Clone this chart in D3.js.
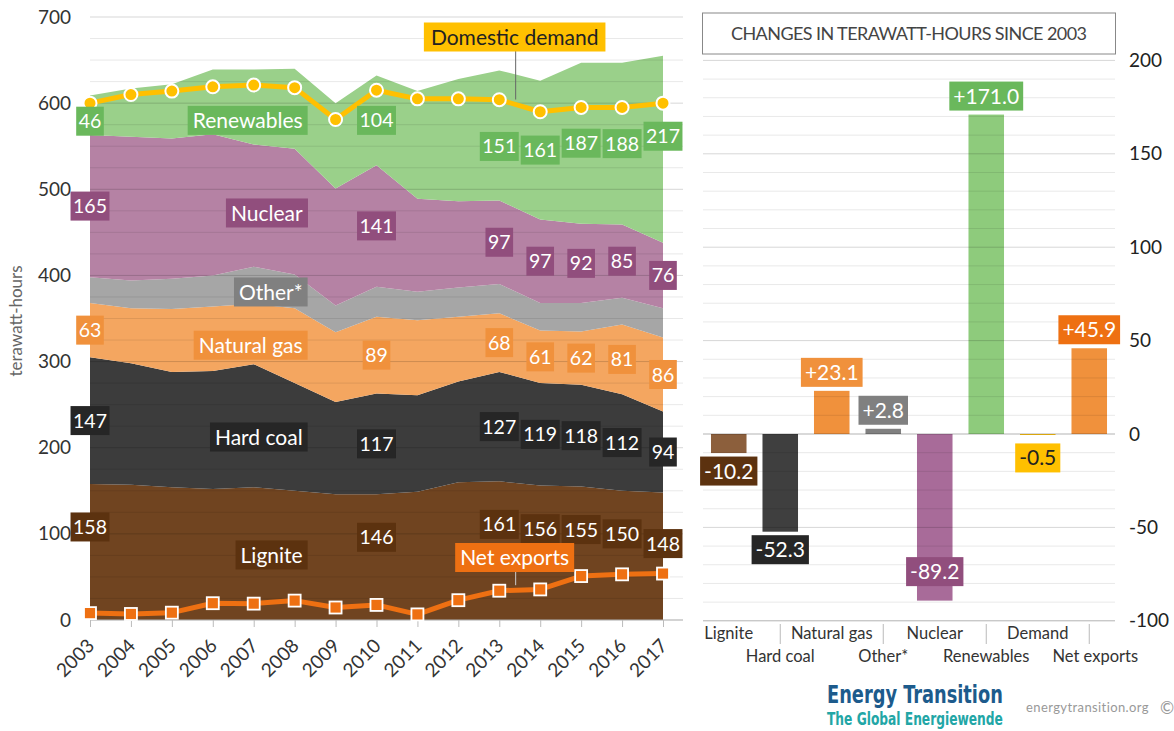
<!DOCTYPE html>
<html><head><meta charset="utf-8">
<script src="https://cdn.jsdelivr.net/npm/d3@7"></script>
<style>
body{margin:0;background:#fff;}
svg{display:block;font-family:Lato,"Open Sans",sans-serif;}
</style>
</head><body>
<svg id="c" width="1174" height="731"></svg>
<script>
// ---------- DATA ----------
const years = [2003,2004,2005,2006,2007,2008,2009,2010,2011,2012,2013,2014,2015,2016,2017];
const lignite    = [158,157,154,152,154,150,146,146,149,160,161,156,155,150,148];
const hardCoal   = [147,141,134,137,143,125,107,117,112,117,127,119,118,112, 94];
const naturalGas = [ 63, 64, 73, 75, 70, 87, 81, 89, 87, 75, 68, 61, 62, 81, 86];
const other      = [ 30, 32, 35, 36, 43, 39, 31, 35, 33, 34, 34, 32, 33, 31, 34];
const nuclear    = [165,167,163,164,142,146,136,141,108,100, 97, 97, 92, 85, 76];
const renewables = [ 46, 56, 63, 75, 87, 93, 99,104,125,142,151,161,187,188,217];
const domesticDemand = [600,610,614,619,621,618,581,615,605,605,604,590,595,595,600];
const netExports = [8,7,8.5,19.5,19,22.5,14.5,17.5,6.5,23,34,35.5,51,53,53.9];
const labelledYears = [2003,2010,2013,2014,2015,2016,2017];
const seriesNames = ["Lignite","Hard coal","Natural gas","Other*","Nuclear","Renewables"];
const leftTicks = [0,100,200,300,400,500,600,700];

const changeCats = ["Lignite","Hard coal","Natural gas","Other*","Nuclear","Renewables","Demand","Net exports"];
const changeValues = [-10.2,-52.3,23.1,2.8,-89.2,171.0,-0.5,45.9];
const rightTicks = [-100,-50,0,50,100,150,200];

// ---------- STYLE ----------
const areaColors  = ["#704420","#3c3c3c","#f4a660","#a6a6a6","#b582a4","#9ad08a"];
const labelColors = ["#5c320f","#262626","#f0913c","#808080","#914e7d","#6ab85c"];
const barColors   = ["#8c5f3c","#3f3f3f","#f0913c","#808080","#a86b99","#8ecb7c","#ffc000","#f0913c"];
const barLabelColors = ["#5c320f","#262626","#f0913c","#808080","#914e7d","#6ab85c","#ffc000","#ee7012"];
const barTextColors  = ["#fff","#fff","#fff","#fff","#fff","#fff","#222","#fff"];

const svg = d3.select("#c");

function boxLabel(parent, cx, cy, text, bg, fg, size, anchor, padX, h){
  padX = padX ?? 4; h = h ?? 29; anchor = anchor || "middle";
  const g = parent.append("g");
  const r = g.append("rect").attr("fill", bg);
  const t = g.append("text").attr("x", cx).attr("y", cy).attr("dy","0.36em")
    .attr("text-anchor", anchor).attr("fill", fg).attr("font-size", size).text(text);
  const bb = t.node().getBBox();
  r.attr("x", bb.x - padX).attr("y", cy - h/2).attr("width", bb.width + 2*padX).attr("height", h);
  return g;
}

// ---------- LEFT CHART ----------
const x = d3.scaleLinear().domain([2003,2017]).range([90,663]);
const y = d3.scaleLinear().domain([0,700]).range([620,17]);
const L = svg.append("g");

const table = years.map((yr,i)=>{
  const r = {year: yr};
  [lignite,hardCoal,naturalGas,other,nuclear,renewables].forEach((arr,j)=> r[seriesNames[j]] = arr[i]);
  return r;
});
const stacked = d3.stack().keys(seriesNames)(table);
const area = d3.area().x(d=>x(d.data.year)).y0(d=>y(d[0])).y1(d=>y(d[1]));
L.selectAll("path.area").data(stacked).join("path")
  .attr("class","area").attr("d", area).attr("fill",(d,i)=>areaColors[i]);

// gridlines (drawn over areas, semi transparent)
L.selectAll("line.grid").data(d3.range(0,701,25)).join("line")
  .attr("x1", 90).attr("x2", 683).attr("y1", d=>y(d)).attr("y2", d=>y(d))
  .attr("stroke","#000").attr("stroke-opacity", d=> d%100===0 ? 0.16 : 0.09).attr("stroke-width",1);

// y axis labels
const yAx = L.append("g").attr("transform","translate(90,0)")
  .call(d3.axisLeft(y).tickValues(leftTicks).tickSize(0).tickPadding(19).tickFormat(d=>String(d)));
yAx.select(".domain").remove();
yAx.selectAll("text").attr("font-size",19).attr("fill","#333").attr("font-family","Lato,sans-serif");

L.append("text").attr("transform","translate(22,321) rotate(-90)")
  .attr("text-anchor","middle").attr("font-size",17).attr("fill","#666").text("terawatt-hours");

// x axis
const xAx = L.append("g").attr("transform","translate(0,620)")
  .call(d3.axisBottom(x).tickValues(years).tickSize(7).tickFormat(d=>String(d)));
xAx.select(".domain").attr("d","M90,0H683").attr("stroke","#bbb");
xAx.selectAll(".tick line").attr("stroke","#bbb");
xAx.selectAll(".tick text").attr("font-size",19).attr("fill","#333").attr("font-family","Lato,sans-serif")
  .attr("text-anchor","end").attr("dy",0).attr("y",0)
  .attr("transform","translate(5,27) rotate(-45)");

// domestic demand line
const valLine = d3.line().x((d,i)=>x(years[i])).y(d=>y(d));
L.append("path").attr("d", valLine(domesticDemand)).attr("fill","none")
  .attr("stroke","#ffc000").attr("stroke-width",5).attr("stroke-linejoin","round");
L.selectAll("circle.dd").data(domesticDemand).join("circle").attr("class","dd")
  .attr("cx",(d,i)=>x(years[i])).attr("cy",d=>y(d)).attr("r",6.5)
  .attr("fill","#ffc000").attr("stroke","#fff").attr("stroke-width",2);

// net exports line
L.append("path").attr("d", valLine(netExports)).attr("fill","none")
  .attr("stroke","#ee7012").attr("stroke-width",5).attr("stroke-linejoin","round");
L.selectAll("rect.ne").data(netExports).join("rect").attr("class","ne")
  .attr("x",(d,i)=>x(years[i])-6).attr("y",d=>y(d)-6).attr("width",12).attr("height",12)
  .attr("fill","#ee7012").attr("stroke","#fff").attr("stroke-width",1.8);

// value labels in bands (no labels for Other*)
const nudge = {"Renewables-2003":6,"Renewables-2013":11,"Renewables-2017":-13,"Lignite-2017":8};
stacked.forEach((s,si)=>{
  if(seriesNames[si]==="Other*") return;
  s.forEach(d=>{
    const yr = d.data.year;
    if(!labelledYears.includes(yr)) return;
    const val = d[1]-d[0];
    let cy = si===0 ? y(d[1]-50) : y((d[0]+d[1])/2);
    cy += (nudge[seriesNames[si]+"-"+yr]||0);
    boxLabel(L, x(yr), cy, String(val), labelColors[si], "#fff", 19.5, "middle", 2.5, 29);
  });
});

// series name labels (right-aligned near 2008)
const nameY = [75.5,212.4,319,380.8,472.5,580];
const nameRight = x(2008)+8;
seriesNames.forEach((n,i)=>{
  boxLabel(L, nameRight, y(nameY[i]), n, labelColors[i], "#fff", 21, "end", 5, 29);
});

// callouts
const calloutX = x(2013.4);
const ddAt = domesticDemand[10] + 0.4*(domesticDemand[11]-domesticDemand[10]);
const neAt = netExports[10] + 0.4*(netExports[11]-netExports[10]);
L.append("line").attr("x1",calloutX).attr("x2",calloutX).attr("y1",50).attr("y2",y(ddAt)-5)
  .attr("stroke","#666").attr("stroke-width",1);
boxLabel(L, calloutX-1, 37, "Domestic demand", "#ffc000", "#222", 21, "middle", 7, 29);
L.append("line").attr("x1",calloutX).attr("x2",calloutX).attr("y1",571).attr("y2",y(neAt)-5)
  .attr("stroke","#ccc").attr("stroke-width",1);
boxLabel(L, calloutX-1, 557.5, "Net exports", "#ee7012", "#fff", 21, "middle", 5, 29);

// ---------- RIGHT CHART ----------
const R = svg.append("g");
const yR = d3.scaleLinear().domain([-100,200]).range([620.8,60.4]);
const xB = d3.scaleBand().domain(changeCats).range([703,1115]).paddingInner(0.31).paddingOuter(0.155);

// title box
R.append("rect").attr("x",702.5).attr("y",13).attr("width",413).attr("height",41)
  .attr("fill","#fff").attr("stroke","#888").attr("stroke-width",1);
R.append("text").attr("x",909).attr("y",34).attr("dy","0.36em").attr("text-anchor","middle")
  .attr("font-size",18).attr("fill","#444").attr("textLength",356).attr("lengthAdjust","spacing")
  .text("CHANGES IN TERAWATT-HOURS SINCE 2003");

// bars
R.selectAll("rect.bar").data(changeValues).join("rect").attr("class","bar")
  .attr("x",(d,i)=>xB(changeCats[i])).attr("width",xB.bandwidth())
  .attr("y",d=>yR(Math.max(0,d))).attr("height",d=>Math.abs(yR(d)-yR(0)))
  .attr("fill",(d,i)=>barColors[i]);

// grid
R.selectAll("line.grid").data(d3.range(-100,201,10)).join("line")
  .attr("x1",703).attr("x2",1115).attr("y1",d=>yR(d)).attr("y2",d=>yR(d))
  .attr("stroke","#000").attr("stroke-opacity",d=> d===0||d===-100 ? 0.3 : (d%50===0 ? 0.16 : 0.09));

// right axis
const yRAx = R.append("g").attr("transform","translate(1115,0)")
  .call(d3.axisRight(yR).tickValues(rightTicks).tickSize(0).tickPadding(14).tickFormat(d=>String(d)));
yRAx.select(".domain").remove();
yRAx.selectAll("text").attr("font-size",19).attr("fill","#222").attr("font-family","Lato,sans-serif");

// bar value labels
const fmt = v => (v>0?"+":"") + v.toFixed(1);
changeValues.forEach((v,i)=>{
  const cx = xB(changeCats[i]) + xB.bandwidth()/2;
  let cy;
  if(changeCats[i]==="Nuclear") cy = yR(v) - 29;
  else if(v>0) cy = yR(v) - 4 - 14.5;
  else cy = yR(v) + (changeCats[i]==="Demand" ? 23 : 18);
  boxLabel(R, cx, cy, fmt(v), barLabelColors[i], barTextColors[i], 21, "middle", 4, 29);
});

// category labels (staggered)
changeCats.forEach((c,i)=>{
  const cx = xB(c) + xB.bandwidth()/2 + (c==="Net exports"?6:0);
  const row2 = i%2===1;
  R.append("text").attr("x",cx).attr("y", row2?656:633).attr("dy","0.36em")
    .attr("text-anchor","middle").attr("font-size",16.5).attr("fill","#333").text(c);
  if(row2){
    const lx = xB(c) + xB.bandwidth()/2;
    R.append("line").attr("x1",lx).attr("x2",lx).attr("y1",624).attr("y2",644)
      .attr("stroke","#bbb").attr("stroke-width",1);
  }
});

// logo (horizontally squeezed to the reference width)
function fitText(txt, left, base, size, color, width){
  const t = svg.append("text").attr("x",0).attr("y",0).attr("font-size",size).attr("font-weight","bold")
    .attr("font-family","'DejaVu Sans Condensed','DejaVu Sans',sans-serif").attr("fill",color).text(txt);
  const w = t.node().getComputedTextLength();
  t.attr("transform",`translate(${left},${base}) scale(${width/w},1)`);
}
fitText("Energy Transition", 827, 703, 25, "#1d5b8c", 176);
fitText("The Global Energiewende", 827, 725, 18, "#22a6a6", 176);
svg.append("text").attr("x",1026).attr("y",712).attr("font-size",13).attr("fill","#999")
  .attr("letter-spacing",0.4).text("energytransition.org");
svg.append("text").attr("x",1160).attr("y",714).attr("font-size",17).attr("fill","#999").text("©");
</script>
</body></html>
